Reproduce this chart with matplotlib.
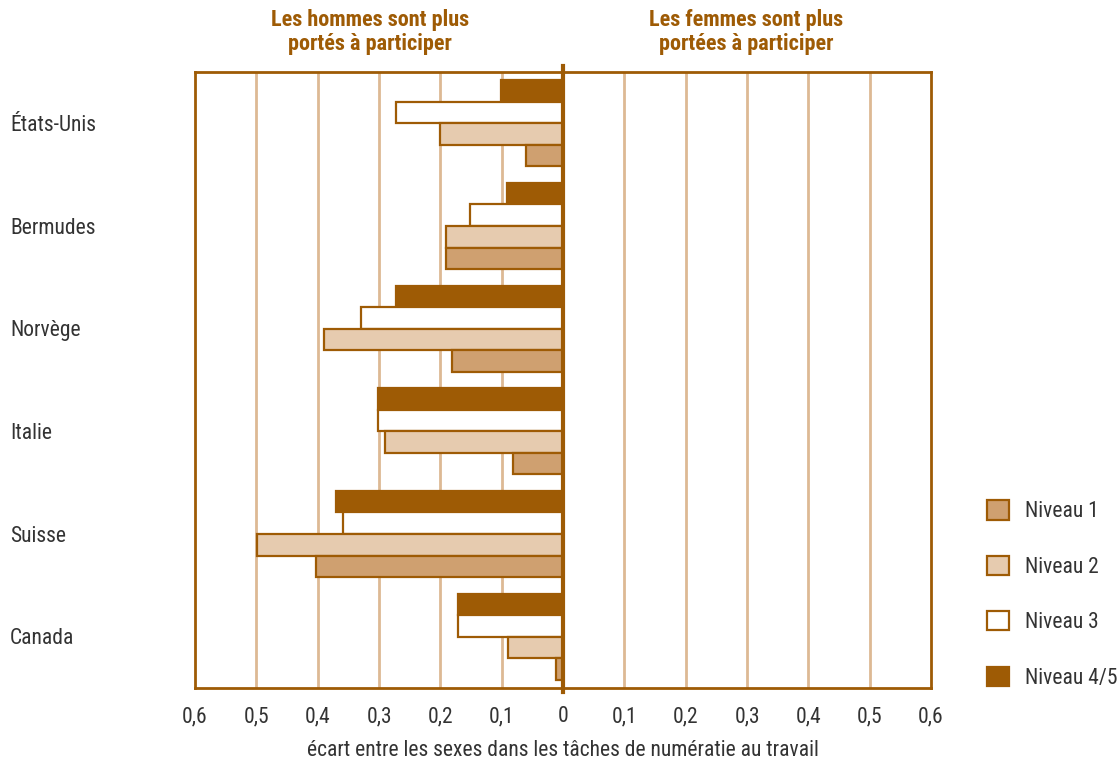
import matplotlib
matplotlib.use("Agg")
import matplotlib.pyplot as plt
from matplotlib.patches import Patch
from matplotlib.ticker import FixedLocator, FuncFormatter
from matplotlib import transforms
from matplotlib import font_manager as fm
import numpy as np


def narrow_font():
    """Pick a condensed sans-serif face if one is available."""
    entries = fm.fontManager.ttflist
    names = {e.name for e in entries}
    for fam in ["Liberation Sans Narrow", "Roboto Condensed", "Arial Narrow",
                "Open Sans Condensed", "Noto Sans Condensed",
                "DejaVu Sans Condensed"]:
        if fam in names:
            return fam, "normal"
    for fam in ["Noto Sans", "Open Sans", "Roboto", "DejaVu Sans"]:
        for e in entries:
            if e.name == fam and e.stretch in ("condensed", "semi-condensed",
                                               "extra-condensed", 300, 400, 200):
                return fam, e.stretch
    return "Roboto", "normal"


famille, largeur = narrow_font()
plt.rcParams['font.family'] = [famille, 'DejaVu Sans']
plt.rcParams['font.stretch'] = largeur

# Gender gap in numeracy tasks at work (negative = men more likely)
pays = ["États-Unis", "Bermudes", "Norvège", "Italie", "Suisse", "Canada"]
niveau_1 = [-0.061, -0.191, -0.181, -0.081, -0.402, -0.012]
niveau_2 = [-0.200, -0.191, -0.389, -0.291, -0.499, -0.090]
niveau_3 = [-0.272, -0.152, -0.330, -0.301, -0.359, -0.172]
niveau_45 = [-0.101, -0.091, -0.272, -0.301, -0.370, -0.172]
series_labels = ["Niveau 1", "Niveau 2", "Niveau 3", "Niveau 4/5"]
x_ticks = [-0.6, -0.5, -0.4, -0.3, -0.2, -0.1, 0, 0.1, 0.2, 0.3, 0.4, 0.5, 0.6]

brun = "#9E5B05"
c_n1 = "#CFA070"
c_n2 = "#E6CBAF"
c_n3 = "#FFFFFF"
c_n45 = brun
grille = "#DDB994"
texte = "#333333"

fig = plt.figure(figsize=(11.17, 7.63), dpi=100)
ax = fig.add_axes([195 / 1117, 1 - 688 / 763, 736 / 1117, 616 / 763])

y = np.arange(len(pays))
h = 0.21
# Bars from top to bottom within a group: 4/5, 3, 2, 1
rows = [(niveau_45, c_n45, -1.5), (niveau_3, c_n3, -0.5),
        (niveau_2, c_n2, 0.5), (niveau_1, c_n1, 1.5)]
for vals, col, off in rows:
    ax.barh(y + off * h, vals, height=h, color=col, edgecolor=brun,
            linewidth=1.6, zorder=3)

ax.set_xlim(-0.6, 0.6)
ax.set_ylim(len(pays) - 0.5, -0.5)

# vertical grid
for t in x_ticks[1:-1]:
    if t != 0:
        ax.axvline(t, color=grille, lw=2, zorder=1)
ax.axvline(0, color=brun, lw=3, zorder=4, ymin=-0.006, ymax=1.01, clip_on=False)

for s in ax.spines.values():
    s.set_color(brun)
    s.set_linewidth(2)

ax.xaxis.set_major_locator(FixedLocator(x_ticks))
ax.xaxis.set_major_formatter(FuncFormatter(
    lambda v, p: "0" if abs(v) < 1e-9 else f"{abs(v):.1f}".replace(".", ",")))
ax.tick_params(axis="x", length=0, pad=13, labelsize=15.5, labelcolor=texte)
ax.set_yticks([])
ax.set_xlabel("écart entre les sexes dans les tâches de numératie au travail",
              fontsize=15.5, color=texte, labelpad=9)

# country labels, left-aligned near the figure edge
trans = transforms.blended_transform_factory(fig.transFigure, ax.transData)
for i, nom in enumerate(pays):
    ax.text(10 / 1117, i + 0.02, nom, transform=trans, ha="left", va="center",
            fontsize=15.5, color=texte)

# headers
fig.text(370 / 1117, 1 - 32 / 763, "Les hommes sont plus\nportés à participer",
         ha="center", va="center", fontsize=16, fontweight="bold", color=brun,
         linespacing=1.12)
fig.text(746 / 1117, 1 - 32 / 763, "Les femmes sont plus\nportées à participer",
         ha="center", va="center", fontsize=16, fontweight="bold", color=brun,
         linespacing=1.12)

handles = [Patch(facecolor=c, edgecolor=brun, linewidth=1.6)
           for c in [c_n1, c_n2, c_n3, c_n45]]
fig.legend(handles, series_labels, loc="upper left",
           bbox_to_anchor=(968 / 1117, 1 - 481 / 763), frameon=False,
           fontsize=15.5, handlelength=1.0, handleheight=1.0,
           labelspacing=1.55, handletextpad=0.75, labelcolor=texte)

fig.savefig("out.png", dpi=100)
